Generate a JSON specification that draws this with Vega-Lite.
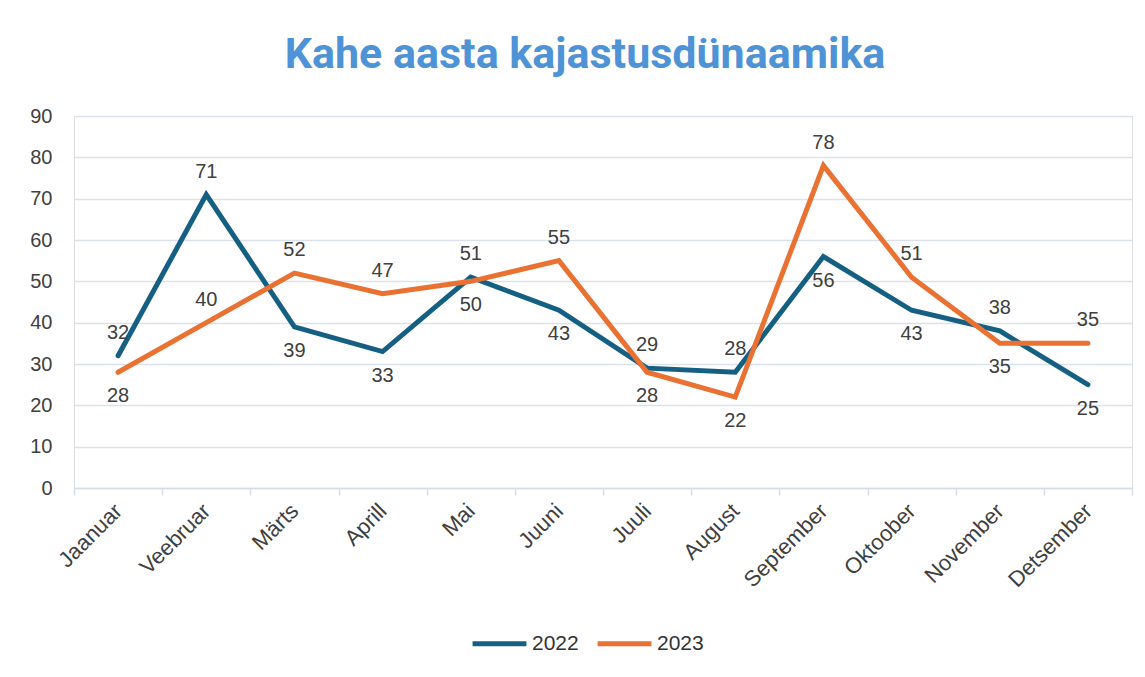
{
  "$schema": "https://vega.github.io/schema/vega-lite/v6.json",
  "width": 1058,
  "height": 372,
  "autosize": "none",
  "padding": {"left": 74, "top": 116, "right": 13, "bottom": 189},
  "background": "white",
  "title": {
    "text": "Kahe aasta kajastusdünaamika",
    "font": "Roboto",
    "fontWeight": "bold",
    "fontSize": 43,
    "color": "#4E93D6",
    "anchor": "middle",
    "dx": -18,
    "offset": 29
  },
  "data": {
    "values": [
      {"month": "Jaanuar", "year": "2022", "value": 32},
      {"month": "Veebruar", "year": "2022", "value": 71},
      {"month": "Märts", "year": "2022", "value": 39},
      {"month": "Aprill", "year": "2022", "value": 33},
      {"month": "Mai", "year": "2022", "value": 51},
      {"month": "Juuni", "year": "2022", "value": 43},
      {"month": "Juuli", "year": "2022", "value": 29},
      {"month": "August", "year": "2022", "value": 28},
      {"month": "September", "year": "2022", "value": 56},
      {"month": "Oktoober", "year": "2022", "value": 43},
      {"month": "November", "year": "2022", "value": 38},
      {"month": "Detsember", "year": "2022", "value": 25},
      {"month": "Jaanuar", "year": "2023", "value": 28},
      {"month": "Veebruar", "year": "2023", "value": 40},
      {"month": "Märts", "year": "2023", "value": 52},
      {"month": "Aprill", "year": "2023", "value": 47},
      {"month": "Mai", "year": "2023", "value": 50},
      {"month": "Juuni", "year": "2023", "value": 55},
      {"month": "Juuli", "year": "2023", "value": 28},
      {"month": "August", "year": "2023", "value": 22},
      {"month": "September", "year": "2023", "value": 78},
      {"month": "Oktoober", "year": "2023", "value": 51},
      {"month": "November", "year": "2023", "value": 35},
      {"month": "Detsember", "year": "2023", "value": 35}
    ]
  },
  "transform": [
    {"joinaggregate": [{"op": "max", "field": "value", "as": "maxv"}], "groupby": ["month"]}
  ],
  "encoding": {
    "x": {
      "field": "month",
      "type": "nominal",
      "sort": null,
      "title": null,
      "axis": {
        "labelAngle": -45,
        "labelAlign": "right",
        "labelBaseline": "middle",
        "labelFont": "Liberation Sans",
        "labelFontSize": 22,
        "labelColor": "#404040",
        "labelPadding": 12,
        "tickBand": "extent",
        "tickColor": "#D5DEE8",
        "tickSize": 7,
        "tickWidth": 1.5,
        "domainColor": "#D5DEE8",
        "domainWidth": 1.5,
        "grid": false
      }
    },
    "y": {
      "field": "value",
      "type": "quantitative",
      "title": null,
      "scale": {"domain": [0, 90]},
      "axis": {
        "values": [0, 10, 20, 30, 40, 50, 60, 70, 80, 90],
        "labelFont": "Liberation Sans",
        "labelFontSize": 20,
        "labelColor": "#404040",
        "labelPadding": 22,
        "ticks": false,
        "domain": false,
        "grid": true,
        "gridColor": "#D9E2EC",
        "gridWidth": 1.5
      }
    }
  },
  "layer": [
    {
      "mark": {"type": "line", "strokeWidth": 5, "strokeCap": "round", "strokeJoin": "miter"},
      "encoding": {
        "color": {
          "field": "year",
          "type": "nominal",
          "scale": {"domain": ["2022", "2023"], "range": ["#156082", "#E97132"]},
          "legend": {
            "title": null,
            "orient": "none",
            "legendX": 396,
            "legendY": 498,
            "direction": "horizontal",
            "symbolType": "stroke",
            "symbolStrokeWidth": 5,
            "symbolSize": 2900,
            "labelFont": "Liberation Sans",
            "labelFontSize": 21,
            "labelColor": "#333333",
            "labelOffset": 3,
            "columnPadding": 8
          }
        }
      }
    },
    {
      "transform": [{"filter": "datum.value >= datum.maxv || datum.month == 'Veebruar'"}],
      "mark": {"type": "text", "font": "Liberation Sans", "fontSize": 20, "color": "#404040", "dy": -23},
      "encoding": {"text": {"field": "value", "type": "quantitative"}}
    },
    {
      "transform": [{"filter": "datum.value < datum.maxv && datum.month != 'Veebruar'"}],
      "mark": {"type": "text", "font": "Liberation Sans", "fontSize": 20, "color": "#404040", "dy": 24},
      "encoding": {"text": {"field": "value", "type": "quantitative"}}
    }
  ]
}
